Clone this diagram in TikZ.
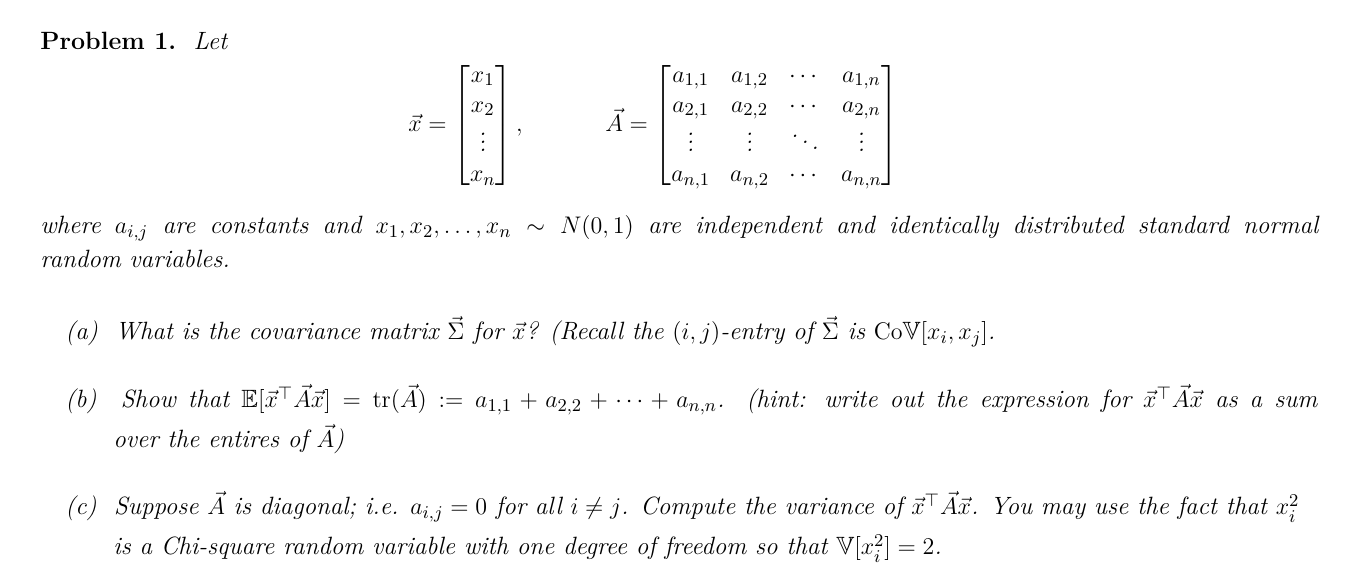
\documentclass[tikz,border=0pt]{standalone}
\usepackage{amsmath,amssymb}
\begin{document}
\begin{tikzpicture}[x=0.5pt,y=-0.5pt,
  txt/.style={anchor=base west,inner sep=0pt,font=\fontsize{12.5}{15}\selectfont\itshape}]
\useasboundingbox (0,0) rectangle (1360,576);
\node[txt] (p) at (40,50) {\textbf{\upshape Problem 1.}\ \ Let};
\node[txt,anchor=west] (xv) at (408,126) {$\vec{x}=\begin{bmatrix}x_1\\ x_2\\ \vdots\\ x_n\end{bmatrix},$};
\node[txt,anchor=west] (Av) at (605,126) {$\vec{A}=\begin{bmatrix}a_{1,1}&a_{1,2}&\cdots&a_{1,n}\\ a_{2,1}&a_{2,2}&\cdots&a_{2,n}\\ \vdots&\vdots&\ddots&\vdots\\ a_{n,1}&a_{n,2}&\cdots&a_{n,n}\end{bmatrix}$};
\node[txt] (w1) at (40,234) {\makebox[639pt][s]{where $a_{i,j}$ are constants and $x_1,x_2,\dots,x_n\sim N(0,1)$ are independent and identically distributed standard normal}};
\node[txt] (w2) at (40,268) {random variables.};
\node[txt] (a) at (65,340) {(a)\ \ What is the covariance matrix $\vec{\Sigma}$ for $\vec{x}$? (Recall the $(i,j)$-entry of $\vec{\Sigma}$ is $\mathrm{Co}\mathbb{V}[x_i,x_j]$.};
\node[txt] (b) at (65,408) {\makebox[626pt][s]{(b)\ \ Show that $\mathbb{E}[\vec{x}^\top\vec{A}\vec{x}]=\mathrm{tr}(\vec{A}):=a_{1,1}+a_{2,2}+\cdots+a_{n,n}$. (hint: write out the expression for $\vec{x}^\top\vec{A}\vec{x}$ as a sum}};
\node[txt] (b2) at (113,448) {over the entires of $\vec{A}$)};
\node[txt] (c) at (65,515) {(c)\ \ Suppose $\vec{A}$ is diagonal; i.e. $a_{i,j}=0$ for all $i\neq j$. Compute the variance of $\vec{x}^\top\vec{A}\vec{x}$. You may use the fact that $x_i^2$};
\node[txt] (c2) at (113,555) {is a Chi-square random variable with one degree of freedom so that $\mathbb{V}[x_i^2]=2$.};
\end{tikzpicture}
\end{document}
